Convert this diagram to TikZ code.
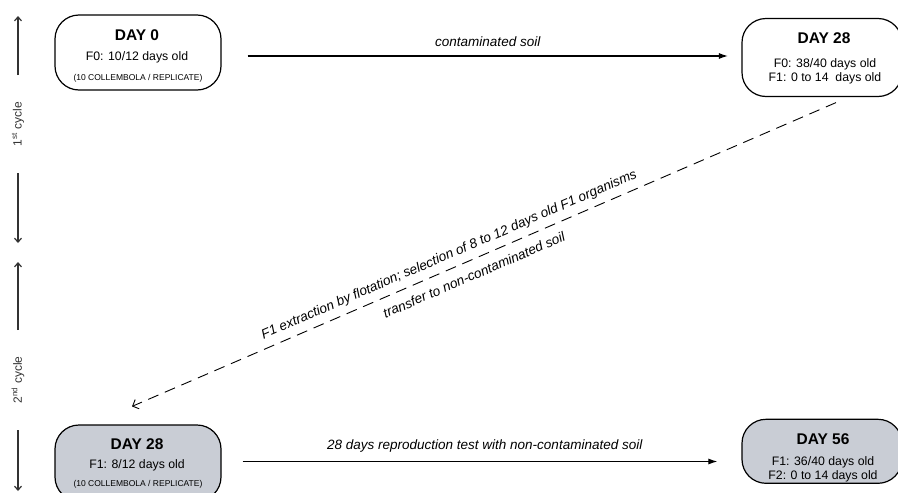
\documentclass[tikz,border=0pt]{standalone}
\usepackage{fontspec}
\setmainfont{Liberation Sans}
\usetikzlibrary{arrows.meta,calc}
\definecolor{boxgray}{RGB}{201,205,213}
\definecolor{axisgray}{RGB}{50,50,50}
\begin{document}
\begin{tikzpicture}[x=1pt,y=-1pt,
  stage/.style={draw=black, line width=1.2pt, rounded corners=24pt, inner sep=0pt},
  graystage/.style={stage, fill=boxgray},
  title/.style={font=\fontsize{15.5}{18}\selectfont\bfseries, anchor=base, inner sep=0pt},
  info/.style={font=\fontsize{12.3}{15}\selectfont, anchor=base, inner sep=0pt},
  tiny/.style={font=\fontsize{8.5}{10}\selectfont, anchor=base, inner sep=0pt},
  harrow/.style={line width=1.1pt, -{Latex[length=9pt,width=6pt]}},
  darrow/.style={line width=0.9pt, dash pattern=on 11pt off 7pt, -{Straight Barb[length=5pt,width=10pt]}},
  axarrow/.style={line width=1.2pt, draw=axisgray, -{Straight Barb[length=4pt,width=7pt]}},
  elabel/.style={font=\fontsize{13.5}{16}\selectfont\itshape},
  axlabel/.style={font=\fontsize{12}{14}\selectfont, rotate=90, text=axisgray, inner sep=0pt}
]
\useasboundingbox (0,0) rectangle (898,493);
\clip (0,0) rectangle (898,493);

% boxes
\node[stage, minimum width=166pt, minimum height=75pt] (d0) at (138,52.5) {};
\node[stage, minimum width=160pt, minimum height=78pt] (d28a) at (822,57.5) {};
\node[graystage, minimum width=166pt, minimum height=76pt] (d28b) at (138,463) {};
\node[graystage, minimum width=160pt, minimum height=64pt] (d56) at (822,451.3) {};

% box texts
\node[title] (t0a) at (137,40.5) {DAY 0};
\node[info]  (t0b) at (137,60.5) {F0: 10/12 days old};
\node[tiny]  (t0c) at (138,80.5) {(10 COLLEMBOLA / REPLICATE)};

\node[title] (t1a) at (824,43.5) {DAY 28};
\node[info]  (t1b) at (825,67) {F0: 38/40 days old};
\node[info]  (t1c) at (825,81) {F1: 0 to 14\ \ days old};

\node[title] (t2a) at (137,449) {DAY 28};
\node[info]  (t2b) at (137,468.5) {F1: 8/12 days old};
\node[tiny]  (t2c) at (138,486) {(10 COLLEMBOLA / REPLICATE)};

\node[title] (t3a) at (823,444) {DAY 56};
\node[info]  (t3b) at (823,465) {F1: 36/40 days old};
\node[info]  (t3c) at (823,479) {F2: 0 to 14 days old};

% connectors
\draw[harrow] ($(d0.east)+(26,3.5)$) -- node[elabel, above=5pt] (l1) {contaminated soil}
  ($(d0.east -| d28a.west)+(-13.5,3.5)$);
\draw[harrow] ($(d28b.east)+(21,-1.5)$) -- node[elabel, above=5pt, pos=0.51] (l2) {28 days reproduction test with non-contaminated soil}
  ($(d28b.east -| d56.west)+(-24,-1.5)$);
\draw[darrow] ($(d28a.south)+(14,5.5)$) --
  node[elabel, sloped, above=3pt, pos=0.542] (l3) {F1 extraction by flotation; selection of 8 to 12 days old F1 organisms}
  node[elabel, sloped, below=6pt, pos=0.5225] (l4) {transfer to non-contaminated soil}
  ($(d28b.north)+(-6,-18)$);

% cycle axis
\coordinate (a1s) at (18,75);  \coordinate (a1e) at (18,16);
\coordinate (a2s) at (18,173); \coordinate (a2e) at (18,243);
\coordinate (a3s) at (18,330); \coordinate (a3e) at (18,262);
\coordinate (a4s) at (18,430); \coordinate (a4e) at (18,491);
\draw[axarrow] (a1s) -- (a1e);
\draw[axarrow] (a2s) -- (a2e);
\draw[axarrow] (a3s) -- (a3e);
\draw[axarrow] (a4s) -- (a4e);
\node[axlabel] (c1) at (18,124) {1\textsuperscript{st} cycle};
\node[axlabel] (c2) at (18,380) {2\textsuperscript{nd} cycle};
\end{tikzpicture}
\end{document}
